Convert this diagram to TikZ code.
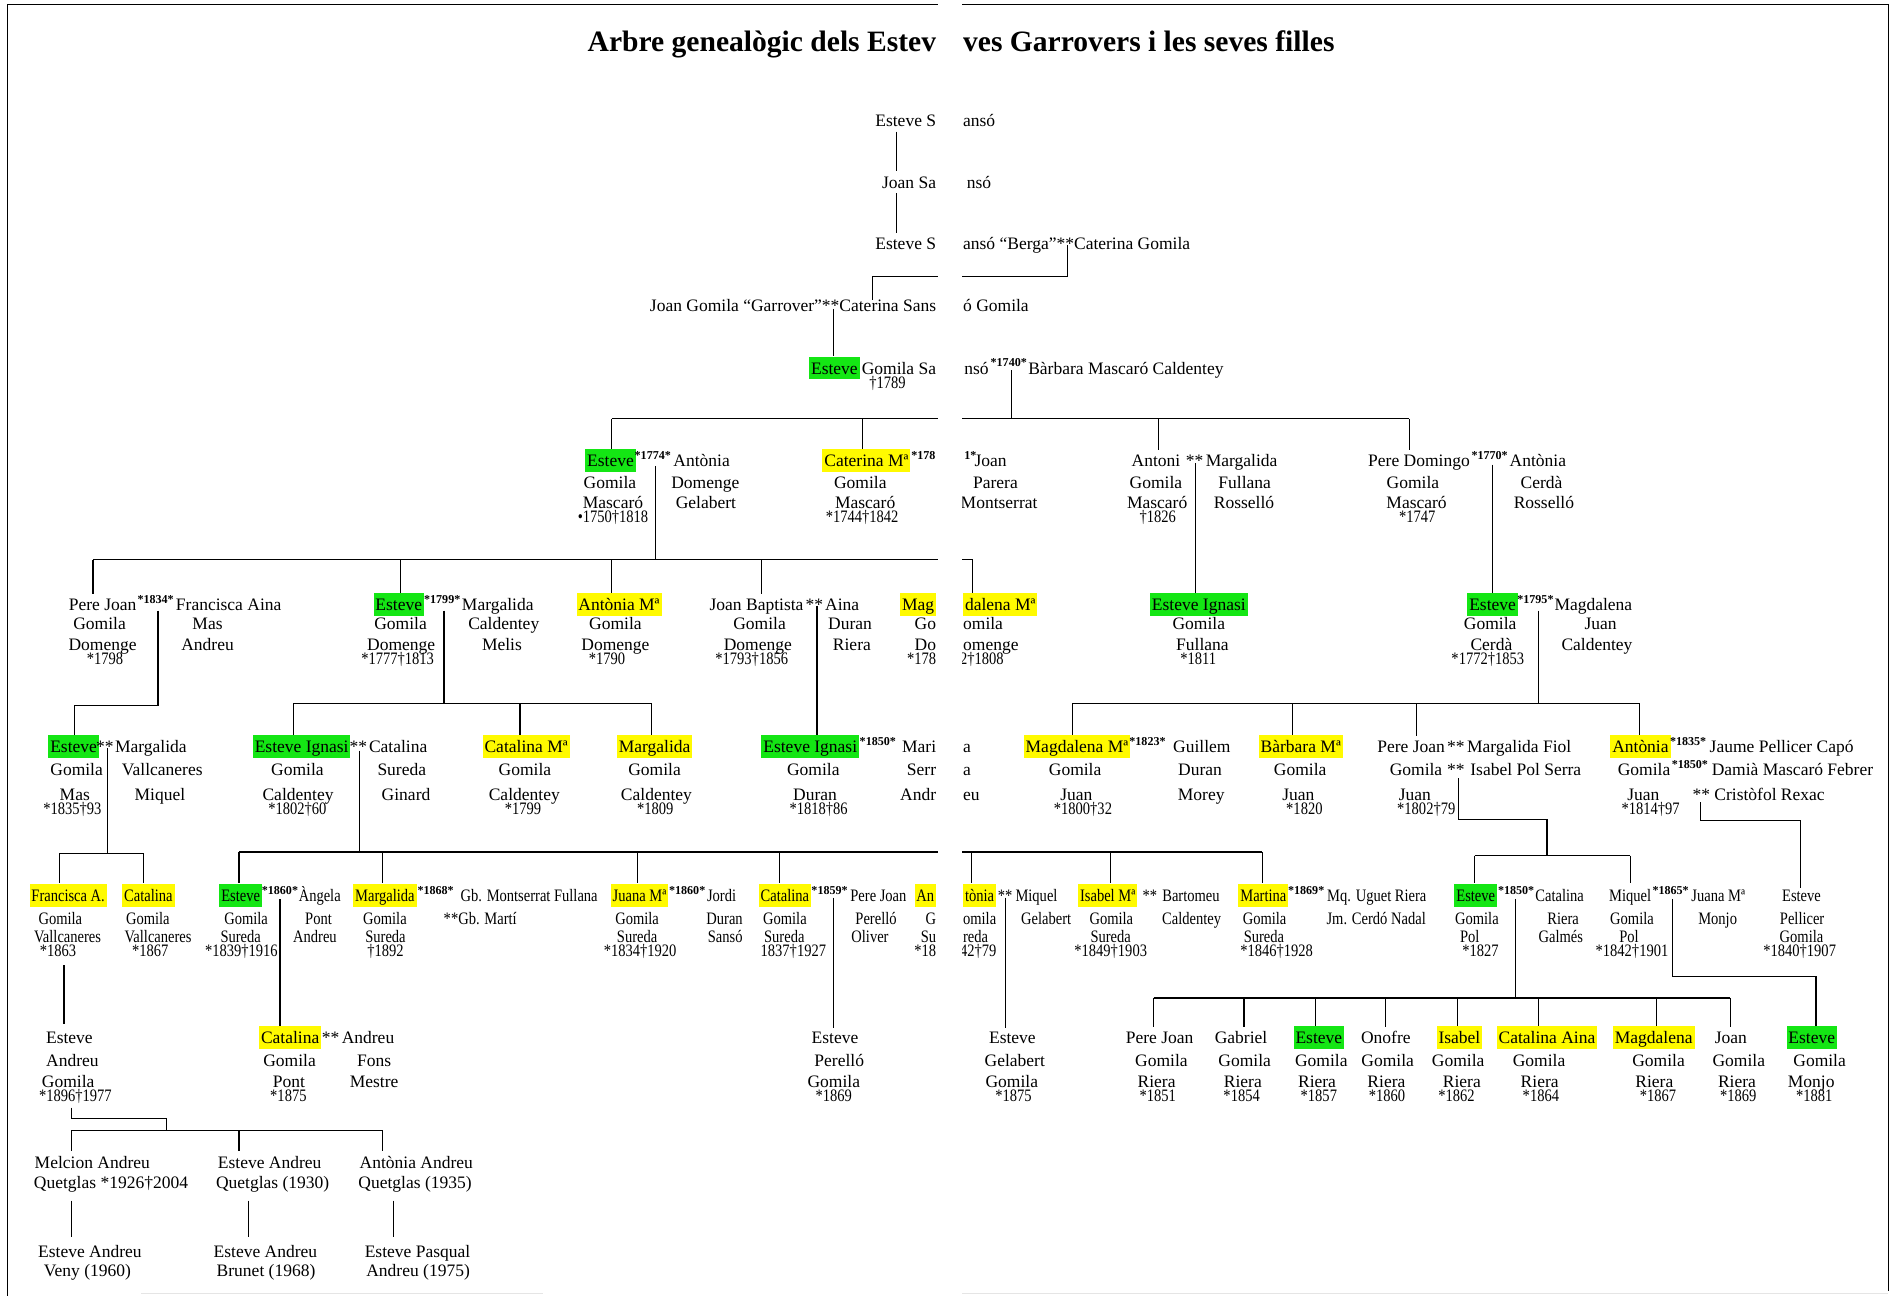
\documentclass[tikz,border=0pt]{standalone}
\usepackage{fontspec}
\setmainfont{Liberation Serif}
\newfontfamily\cnfont[FakeStretch=0.83]{Liberation Serif}
\definecolor{hgreen}{RGB}{20,230,20}
\definecolor{hyell}{RGB}{255,250,0}
\newcounter{tn}
\newcommand\T[4][]{\stepcounter{tn}\node[tx,#1] (n\arabic{tn}) at (#2,#3) {#4};}
\tikzset{
 tx/.style={inner sep=0pt, anchor=base, font=\fontsize{14.5}{17}\selectfont},
 dt/.style={font=\cnfont\fontsize{14.5}{17}\selectfont},
 cnd/.style={font=\cnfont\fontsize{14.5}{17}\selectfont},
 sups/.style={font=\bfseries\fontsize{10}{12}\selectfont},
 hgr/.style={fill=hgreen, inner xsep=1.6pt, text height=14.5pt, text depth=4.5pt},
 hyl/.style={fill=hyell, inner xsep=1.6pt, text height=14.5pt, text depth=4.5pt},
 ttl/.style={font=\bfseries\fontsize{24.5}{28}\selectfont},
 ln/.style={line width=1pt},
 le/.style={anchor=base east},
 rw/.style={anchor=base west},
}
\begin{document}
\begin{tikzpicture}[x=1pt,y=-1pt]
\useasboundingbox (0,0) rectangle (1568,1074);
% frame
\draw[line width=1.2pt] (6,1074) -- (6,3.5) -- (1565,3.5) -- (1565,1070);
\draw[gray!20,line width=1pt] (117,1072) -- (450,1072);
\draw[gray!20,line width=1pt] (795,1072) -- (1565,1072);
% ---------- connectors
\draw[ln] (743,109) -- (743,142);
\draw[ln] (743,160) -- (743,193);
\draw[ln] (885,203) -- (885,229) -- (723,229) -- (723,249);
\draw[ln] (691,256) -- (691,295);
\draw[ln] (838,307) -- (838,347);
\draw[ln] (507,347) -- (1168,347);
\foreach \x in {507,715,960,1168} \draw[ln] (\x,347) -- (\x,373);
\draw[ln] (543,386) -- (543,464);
\draw[ln] (77,464) -- (806,464);
\foreach \x in {77,332,507,631,806} \draw[ln] (\x,464) -- (\x,492);
\draw[ln] (991,384) -- (991,492);
\draw[ln] (1237,385) -- (1237,492);
\draw[ln] (131,506) -- (131,585) -- (62,585) -- (62,610);
\draw[ln] (368,506) -- (368,583);
\draw[ln] (243,583) -- (540,583);
\foreach \x in {243,431,540} \draw[ln] (\x,583) -- (\x,610);
\draw[ln] (677,502) -- (677,610);
\draw[ln] (1275,506) -- (1275,583);
\draw[ln] (889,583) -- (1359,583);
\foreach \x in {889,1071,1174,1359} \draw[ln] (\x,583) -- (\x,610);
\draw[ln] (89,620) -- (89,707);
\draw[ln] (49,707) -- (119,707);
\foreach \x in {49,119} \draw[ln] (\x,707) -- (\x,732);
\draw[ln] (298,622) -- (298,706);
\draw[ln] (198,706) -- (1046,706);
\foreach \x in {198,317,528,646,805,920,1046} \draw[ln] (\x,706) -- (\x,732);
\draw[ln] (1209,645) -- (1209,679) -- (1282,679) -- (1282,709);
\draw[ln] (1222,709) -- (1351,709);
\foreach \x in {1222,1351} \draw[ln] (\x,709) -- (\x,732);
\draw[ln] (1409,665) -- (1409,680) -- (1492,680) -- (1492,736);
\draw[ln] (53,800) -- (53,849);
\draw[ln] (232,745) -- (232,850);
\draw[ln] (691,744) -- (691,852);
\draw[ln] (833,744) -- (833,852);
\draw[ln] (1256,745) -- (1256,827);
\draw[ln] (956,827) -- (1434,827);
\foreach \x in {956,1031,1090,1148,1208,1275,1373,1434} \draw[ln] (\x,827) -- (\x,851);
\draw[ln] (1386,745) -- (1386,809) -- (1505,809) -- (1505,851);
\draw[ln] (59,918) -- (59,927) -- (138,927) -- (138,937);
\draw[ln] (59,937) -- (317,937);
\foreach \x in {59,198,317} \draw[ln] (\x,937) -- (\x,954);
\foreach \x in {59,206,326} \draw[ln] (\x,995) -- (\x,1025);
% ---------- title
\T[ttl,le]{776}{43}{Arbre genealògic dels Estev}
\T[ttl,rw]{798}{43}{ves Garrovers i les seves filles}
% ---------- rows 1-5
\T[le]{776}{105}{Esteve S}
\T[rw]{798}{105}{ansó}
\T[le]{776}{156}{Joan Sa}
\T[rw]{801}{156}{nsó}
\T[le]{776}{207}{Esteve S}
\T[rw]{798}{207}{ansó “Berga”**Caterina Gomila}
\T[le]{776}{258}{Joan Gomila “Garrover”**Caterina Sans}
\T[rw]{798}{258}{ó Gomila}
\T[hgr]{691.5}{310}{Esteve}
\T[le]{776}{310}{Gomila Sa}
\T[rw]{799}{310}{nsó}
\T[sups]{836}{304}{*1740*}
\T[rw]{852}{310}{Bàrbara Mascaró Caldentey}
\T[dt]{735.5}{322}{†1789}
% ---------- row 6
\T[hgr]{506}{387}{Esteve}
\T{505.5}{405}{Gomila}
\T{508}{421}{Mascaró}
\T[dt]{508}{433}{•1750†1818}
\T[sups]{541}{381}{*1774*}
\T{581.5}{387}{Antònia}
\T{584.5}{405}{Domenge}
\T{585}{421}{Gelabert}
\T[hyl]{718}{387}{Caterina Mª}
\T[sups,rw]{755}{381}{*178}
\T{713}{405}{Gomila}
\T{717}{421}{Mascaró}
\T[dt]{714.5}{433}{*1744†1842}
\T[sups,rw]{799}{381}{1*}
\T{821}{387}{Joan}
\T{825}{405}{Parera}
\T{828}{421}{Montserrat}
\T{958}{387}{Antoni}
\T{990}{387}{**}
\T{1029}{387}{Margalida}
\T{958}{405}{Gomila}
\T{1031.5}{405}{Fullana}
\T{959}{421}{Mascaró}
\T{1031}{421}{Rosselló}
\T[dt]{959.5}{433}{†1826}
\T{1176}{387}{Pere Domingo}
\T[sups]{1234.5}{381}{*1770*}
\T{1274.5}{387}{Antònia}
\T{1171}{405}{Gomila}
\T{1277.5}{405}{Cerdà}
\T{1174}{421}{Mascaró}
\T{1279.5}{421}{Rosselló}
\T[dt]{1174.5}{433}{*1747}
% ---------- row 7
\T{85}{506}{Pere Joan}
\T[sups]{129}{500}{*1834*}
\T{189.5}{506}{Francisca Aina}
\T{82.5}{522}{Gomila}
\T{172}{522}{Mas}
\T{85}{539}{Domenge}
\T{172}{539}{Andreu}
\T[dt]{87}{551}{*1798}
\T[hgr]{330.5}{506}{Esteve}
\T[sups]{366.5}{500}{*1799*}
\T{412.5}{506}{Margalida}
\T{332}{522}{Gomila}
\T{417.5}{522}{Caldentey}
\T{332.5}{539}{Domenge}
\T{416}{539}{Melis}
\T[dt]{329.5}{551}{*1777†1813}
\T[hyl]{513}{506}{Antònia Mª}
\T{510}{522}{Gomila}
\T{510}{539}{Domenge}
\T[dt]{503}{551}{*1790}
\T{627}{506}{Joan Baptista}
\T{675}{506}{**}
\T{698}{506}{Aina}
\T{629.5}{522}{Gomila}
\T{704.5}{522}{Duran}
\T{628}{539}{Domenge}
\T{706}{539}{Riera}
\T[dt]{623}{551}{*1793†1856}
\T[hyl,le]{776}{506}{Mag}
\T[hyl,rw]{798}{506}{dalena Mª}
\T[le]{776}{522}{Go}
\T[rw]{798}{522}{omila}
\T[le]{776}{539}{Do}
\T[rw]{798}{539}{omenge}
\T[dt,le]{776}{551}{*178}
\T[dt,rw]{795.5}{551}{2†1808}
\T[hgr]{993.5}{506}{Esteve Ignasi}
\T{993.5}{522}{Gomila}
\T{996.5}{539}{Fullana}
\T[dt]{993}{551}{*1811}
\T[hgr]{1237}{506}{Esteve}
\T[sups]{1272.5}{500}{*1795*}
\T{1320.5}{506}{Magdalena}
\T{1235}{522}{Gomila}
\T{1326.5}{522}{Juan}
\T{1236}{539}{Cerdà}
\T{1323.5}{539}{Caldentey}
\T[dt]{1233}{551}{*1772†1853}
% ---------- row 8
\T[hgr]{61}{624}{Esteve}
\T{87}{624}{**}
\T{125}{624}{Margalida}
\T{63.5}{643}{Gomila}
\T{134.5}{643}{Vallcaneres}
\T{62}{663}{Mas}
\T{132.5}{663}{Miquel}
\T[dt]{60}{675}{*1835†93}
\T[hgr]{250}{624}{Esteve Ignasi}
\T{297}{624}{**}
\T{330}{624}{Catalina}
\T{246.5}{643}{Gomila}
\T{333}{643}{Sureda}
\T{247}{663}{Caldentey}
\T{336.5}{663}{Ginard}
\T[dt]{246.5}{675}{*1802†60}
\T[hyl]{436}{624}{Catalina Mª}
\T{435}{643}{Gomila}
\T{434.5}{663}{Caldentey}
\T[dt]{433.5}{675}{*1799}
\T[hyl]{542.5}{624}{Margalida}
\T{542.5}{643}{Gomila}
\T{544}{663}{Caldentey}
\T[dt]{543}{675}{*1809}
\T[hgr]{671.5}{624}{Esteve Ignasi}
\T[sups]{727.5}{618}{*1850*}
\T[le]{776}{624}{Mari}
\T[rw]{798}{624}{a}
\T{674}{643}{Gomila}
\T[le]{776}{643}{Serr}
\T[rw]{798}{643}{a}
\T{675.5}{663}{Duran}
\T[le]{776}{663}{Andr}
\T[rw]{798}{663}{eu}
\T[dt]{678.5}{675}{*1818†86}
\T[hyl]{892.5}{624}{Magdalena Mª}
\T[sups]{951}{618}{*1823*}
\T{996}{624}{Guillem}
\T{891}{643}{Gomila}
\T{994.5}{643}{Duran}
\T{892}{663}{Juan}
\T{995.5}{663}{Morey}
\T[dt]{897.5}{675}{*1800†32}
\T[hyl]{1078}{624}{Bàrbara Mª}
\T{1077.5}{643}{Gomila}
\T{1076}{663}{Juan}
\T[dt]{1081}{675}{*1820}
\T{1169.5}{624}{Pere Joan}
\T{1206.5}{624}{**}
\T{1259}{624}{Margalida Fiol}
\T{1173.5}{643}{Gomila}
\T{1206.5}{643}{**}
\T{1264.5}{643}{Isabel Pol Serra}
\T{1172.5}{663}{Juan}
\T[dt]{1182}{675}{*1802†79}
\T[hyl]{1359.5}{624}{Antònia}
\T[sups]{1399}{618}{*1835*}
\T{1476.5}{624}{Jaume Pellicer Capó}
\T{1362.5}{643}{Gomila}
\T[sups]{1400.5}{637}{*1850*}
\T{1485.5}{643}{Damià Mascaró Febrer}
\T{1362}{663}{Juan}
\T{1410}{663}{**}
\T{1466.5}{663}{Cristòfol Rexac}
\T[dt]{1368}{675}{*1814†97}
% ---------- row 9
\T[cnd,hyl]{56.5}{747}{Francisca A.}
\T[cnd]{50}{766}{Gomila}
\T[cnd]{56}{781}{Vallcaneres}
\T[cnd]{48}{793}{*1863}
\T[cnd,hyl]{123}{747}{Catalina}
\T[cnd]{122.5}{766}{Gomila}
\T[cnd]{131}{781}{Vallcaneres}
\T[cnd]{124.5}{793}{*1867}
\T[cnd,hgr]{199.5}{747}{Esteve}
\T[sups]{232}{741}{*1860*}
\T[cnd]{265}{747}{Àngela}
\T[cnd]{204}{766}{Gomila}
\T[cnd]{264}{766}{Pont}
\T[cnd]{199.5}{781}{Sureda}
\T[cnd]{261}{781}{Andreu}
\T[cnd]{200}{793}{*1839†1916}
\T[cnd,hyl]{319}{747}{Margalida}
\T[sups]{361}{741}{*1868*}
\T[cnd]{438.5}{747}{Gb. Montserrat Fullana}
\T[cnd]{319}{766}{Gomila}
\T[cnd]{398}{766}{**Gb. Martí}
\T[cnd]{319.5}{781}{Sureda}
\T[cnd]{319.5}{793}{†1892}
\T[cnd,hyl]{530}{747}{Juana Mª}
\T[sups]{569.5}{741}{*1860*}
\T[cnd]{598}{747}{Jordi}
\T[cnd]{528}{766}{Gomila}
\T[cnd]{600.5}{766}{Duran}
\T[cnd]{528}{781}{Sureda}
\T[cnd]{601}{781}{Sansó}
\T[cnd]{530.5}{793}{*1834†1920}
\T[cnd,hyl]{650.5}{747}{Catalina}
\T[sups]{687.5}{741}{*1859*}
\T[cnd]{728}{747}{Pere Joan}
\T[cnd]{650.5}{766}{Gomila}
\T[cnd]{726}{766}{Perelló}
\T[cnd]{650}{781}{Sureda}
\T[cnd]{721}{781}{Oliver}
\T[cnd]{657.5}{793}{1837†1927}
\T[cnd,hyl,le]{776}{747}{An}
\T[cnd,hyl,rw]{798}{747}{tònia}
\T[cnd]{833}{747}{**}
\T[cnd]{859}{747}{Miquel}
\T[cnd,le]{776}{766}{G}
\T[cnd,rw]{798}{766}{omila}
\T[cnd]{867}{766}{Gelabert}
\T[cnd,le]{776}{781}{Su}
\T[cnd,rw]{798}{781}{reda}
\T[cnd,le]{776}{793}{*18}
\T[cnd,rw]{795.5}{793}{42†79}
\T[cnd,hyl]{918}{747}{Isabel Mª}
\T[cnd]{953}{747}{**}
\T[cnd]{987}{747}{Bartomeu}
\T[cnd]{921}{766}{Gomila}
\T[cnd]{987.5}{766}{Caldentey}
\T[cnd]{920.5}{781}{Sureda}
\T[cnd]{920.5}{793}{*1849†1903}
\T[cnd,hyl]{1047}{747}{Martina}
\T[sups]{1082.5}{741}{*1869*}
\T[cnd]{1141}{747}{Mq. Uguet Riera}
\T[cnd]{1048}{766}{Gomila}
\T[cnd]{1140.5}{766}{Jm. Cerdó Nadal}
\T[cnd]{1047.5}{781}{Sureda}
\T[cnd]{1058}{793}{*1846†1928}
\T[cnd,hgr]{1223}{747}{Esteve}
\T[sups]{1256.5}{741}{*1850*}
\T[cnd]{1292.5}{747}{Catalina}
\T[cnd]{1224}{766}{Gomila}
\T[cnd]{1295.5}{766}{Riera}
\T[cnd]{1218}{781}{Pol}
\T[cnd]{1293.5}{781}{Galmés}
\T[cnd]{1227}{793}{*1827}
\T[cnd]{1351}{747}{Miquel}
\T[sups]{1384.5}{741}{*1865*}
\T[cnd]{1424}{747}{Juana Mª}
\T[cnd]{1352.5}{766}{Gomila}
\T[cnd]{1423.5}{766}{Monjo}
\T[cnd]{1350}{781}{Pol}
\T[cnd]{1352.5}{793}{*1842†1901}
\T[cnd]{1493}{747}{Esteve}
\T[cnd]{1493.5}{766}{Pellicer}
\T[cnd]{1493}{781}{Gomila}
\T[cnd]{1491.5}{793}{*1840†1907}
% ---------- row 10
\T{57.5}{865}{Esteve}
\T{60}{884}{Andreu}
\T{56.5}{901}{Gomila}
\T[dt]{62.5}{913}{*1896†1977}
\T[hyl]{240.5}{865}{Catalina}
\T{274}{865}{**}
\T{305}{865}{Andreu}
\T{240}{884}{Gomila}
\T{310}{884}{Fons}
\T{239.5}{901}{Pont}
\T{310}{901}{Mestre}
\T[dt]{239}{913}{*1875}
\T{692}{865}{Esteve}
\T{695.5}{884}{Perelló}
\T{691}{901}{Gomila}
\T[dt]{691}{913}{*1869}
\T{839}{865}{Esteve}
\T{841}{884}{Gelabert}
\T{838.5}{901}{Gomila}
\T[dt]{840}{913}{*1875}
\T{961}{865}{Pere Joan}
\T{962.5}{884}{Gomila}
\T{958.5}{901}{Riera}
\T[dt]{959.5}{913}{*1851}
\T{1028.5}{865}{Gabriel}
\T{1031.5}{884}{Gomila}
\T{1030}{901}{Riera}
\T[dt]{1029}{913}{*1854}
\T[hgr]{1093}{865}{Esteve}
\T{1095}{884}{Gomila}
\T{1091.5}{901}{Riera}
\T[dt]{1093}{913}{*1857}
\T{1148.5}{865}{Onofre}
\T{1150}{884}{Gomila}
\T{1149}{901}{Riera}
\T[dt]{1149.5}{913}{*1860}
\T[hyl]{1209.5}{865}{Isabel}
\T{1208.5}{884}{Gomila}
\T{1211.5}{901}{Riera}
\T[dt]{1207}{913}{*1862}
\T[hyl]{1282}{865}{Catalina Aina}
\T{1275.5}{884}{Gomila}
\T{1276}{901}{Riera}
\T[dt]{1277}{913}{*1864}
\T[hyl]{1370.5}{865}{Magdalena}
\T{1374.5}{884}{Gomila}
\T{1371}{901}{Riera}
\T[dt]{1374}{913}{*1867}
\T{1434.5}{865}{Joan}
\T{1441}{884}{Gomila}
\T{1439.5}{901}{Riera}
\T[dt]{1440.5}{913}{*1869}
\T[hgr]{1501.5}{865}{Esteve}
\T{1508}{884}{Gomila}
\T{1501}{901}{Monjo}
\T[dt]{1503.5}{913}{*1881}
% ---------- rows 11-12
\T{76.5}{968}{Melcion Andreu}
\T{92}{985}{Quetglas *1926†2004}
\T{223.5}{968}{Esteve Andreu}
\T{226}{985}{Quetglas (1930)}
\T{345}{968}{Antònia Andreu}
\T{344}{985}{Quetglas (1935)}
\T{74.5}{1042}{Esteve Andreu}
\T{72.5}{1058}{Veny (1960)}
\T{220}{1042}{Esteve Andreu}
\T{220.5}{1058}{Brunet (1968)}
\T{346}{1042}{Esteve Pasqual}
\T{346.5}{1058}{Andreu (1975)}
% ---------- the blank band of the scan
\fill[white] (777,-1) rectangle (797,1075);
\end{tikzpicture}
\end{document}
